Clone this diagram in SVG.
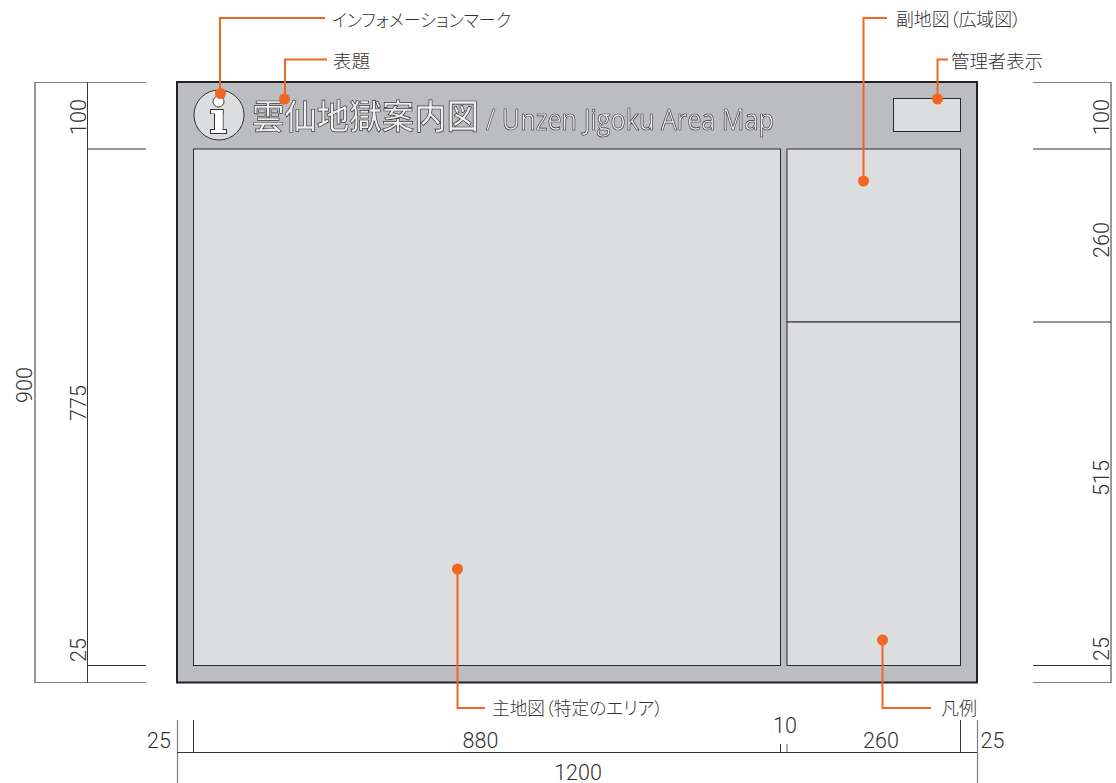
<svg xmlns="http://www.w3.org/2000/svg" width="1116" height="783" viewBox="0 0 1116 783">
<defs><filter id="gray" x="-2%" y="-20%" width="104%" height="140%" color-interpolation-filters="sRGB"><feColorMatrix type="saturate" values="0"/></filter></defs>
<style>
.panel{fill:#dcdddf;stroke:#2b2b2b;stroke-width:1}
.dim{fill:none;stroke:#333;stroke-width:1}
.dimg{fill:none;stroke:#7d7d7d;stroke-width:1.2}
.lead{fill:none;stroke:#f26522;stroke-width:2}
.dot{fill:#f26522}
.lbl{font-family:"Noto Sans CJK JP","Noto Sans",sans-serif;font-size:18px;font-weight:300;fill:#333;font-feature-settings:"palt"}
.num{font-family:Roboto,"Liberation Sans",sans-serif;font-size:21.500px;font-weight:300;fill:#333}
.title{fill:#eeeff0;stroke:#333;stroke-width:.7;font-weight:500}
.i{fill:#fff;stroke:#333;stroke-width:1}
.ifill{fill:#fff}
</style>
<g id="dimensions">
<path class="dimg" d="M35 82.500H146M35 682.500H146M1033 82.500H1111M1033 682.500H1111M177.500 720V783M977.500 720V783M787 744V752"/>
<path class="dim" d="M35 82V683M87.500 82V683M87 149H146M87 665.500H146M1111 82V683M1033 149H1111M1033 322H1111M1033 665.500H1111M177 752.500H977M193.500 720V752M780.500 744V752M960.500 720V752"/>
<text class="num" transform="translate(32 385) rotate(-90)" text-anchor="middle">900</text>
<text class="num" transform="translate(86 403) rotate(-90)" text-anchor="middle">775</text>
<text class="num" transform="translate(86 117) rotate(-90)" text-anchor="middle">100</text>
<text class="num" transform="translate(86 650) rotate(-90)" text-anchor="middle">25</text>
<text class="num" transform="translate(1109 117) rotate(-90)" text-anchor="middle">100</text>
<text class="num" transform="translate(1109 240) rotate(-90)" text-anchor="middle">260</text>
<text class="num" transform="translate(1109 478) rotate(-90)" text-anchor="middle">515</text>
<text class="num" transform="translate(1109 649) rotate(-90)" text-anchor="middle">25</text>
<text class="num" x="159" y="748" text-anchor="middle">25</text>
<text class="num" x="480.500" y="748" text-anchor="middle">880</text>
<text class="num" x="785" y="733" text-anchor="middle">10</text>
<text class="num" x="881" y="748" text-anchor="middle">260</text>
<text class="num" x="992.500" y="748" text-anchor="middle">25</text>
<text class="num" x="578" y="780" text-anchor="middle">1200</text>
</g>
<g id="board"><rect x="177" y="82" width="800" height="600.500" fill="#bcbdc1" stroke="#222" stroke-width="2"/></g>
<g id="main-map"><rect class="panel" x="193.500" y="149" width="587" height="516.500"/></g>
<g id="sub-map"><rect class="panel" x="787" y="149" width="173.500" height="173"/></g>
<g id="legend"><rect class="panel" x="787" y="322" width="173.500" height="343.500"/></g>
<g id="admin"><rect class="panel" x="893.500" y="98.500" width="67" height="33"/></g>
<g id="info-mark">
<circle cx="219" cy="115" r="25" fill="#dcdddf" stroke="#333" stroke-width="1"/>
<circle cx="218.500" cy="101.500" r="5.500" fill="#fff" stroke="#333" stroke-width="1"/>
<rect class="i" x="210.500" y="109.500" width="12.500" height="4"/>
<rect class="i" x="210.500" y="129.500" width="16" height="4"/>
<rect class="i" x="214.500" y="110" width="8.500" height="20"/>
<rect class="ifill" x="211" y="110" width="11.500" height="3.500"/>
<rect class="ifill" x="215" y="110" width="7.500" height="20"/>
<rect class="ifill" x="211" y="130" width="15" height="3"/>
</g>
<g id="title" filter="url(#gray)">
<text class="title" x="252" y="128.500" font-family="'Noto Sans CJK JP',sans-serif" font-size="34" textLength="227" lengthAdjust="spacingAndGlyphs">雲仙地獄案内図</text>
<text class="title" x="486" y="129.500" font-family="'Open Sans',sans-serif" font-size="29" textLength="288" lengthAdjust="spacingAndGlyphs">/ Unzen Jigoku Area Map</text>
</g>
<g id="connectors">
<path class="lead" d="M325 18H220V93"/>
<path class="lead" d="M327 59.500H285V99"/>
<path class="lead" d="M887 18H863.500V181"/>
<path class="lead" d="M948 59.500H937.500V99"/>
<path class="lead" d="M457.500 569V708H485"/>
<path class="lead" d="M882.500 640V708H931"/>
<circle class="dot" cx="220.500" cy="93.500" r="5.500"/>
<circle class="dot" cx="284.500" cy="99" r="5.500"/>
<circle class="dot" cx="863.500" cy="181" r="5.500"/>
<circle class="dot" cx="937.500" cy="99" r="5.500"/>
<circle class="dot" cx="457.500" cy="569" r="5.500"/>
<circle class="dot" cx="882.500" cy="640" r="5.500"/>
</g>
<g id="labels">
<text class="lbl" x="332" y="27" textLength="179" lengthAdjust="spacingAndGlyphs">インフォメーションマーク</text>
<text class="lbl" x="333" y="68" textLength="37" lengthAdjust="spacingAndGlyphs">表題</text>
<text class="lbl" x="896" y="26" textLength="125" lengthAdjust="spacingAndGlyphs">副地図（広域図）</text>
<text class="lbl" x="951" y="68" textLength="92" lengthAdjust="spacingAndGlyphs">管理者表示</text>
<text class="lbl" x="492" y="715" textLength="171" lengthAdjust="spacingAndGlyphs">主地図（特定のエリア）</text>
<text class="lbl" x="941" y="715">凡例</text>
</g>
</svg>
